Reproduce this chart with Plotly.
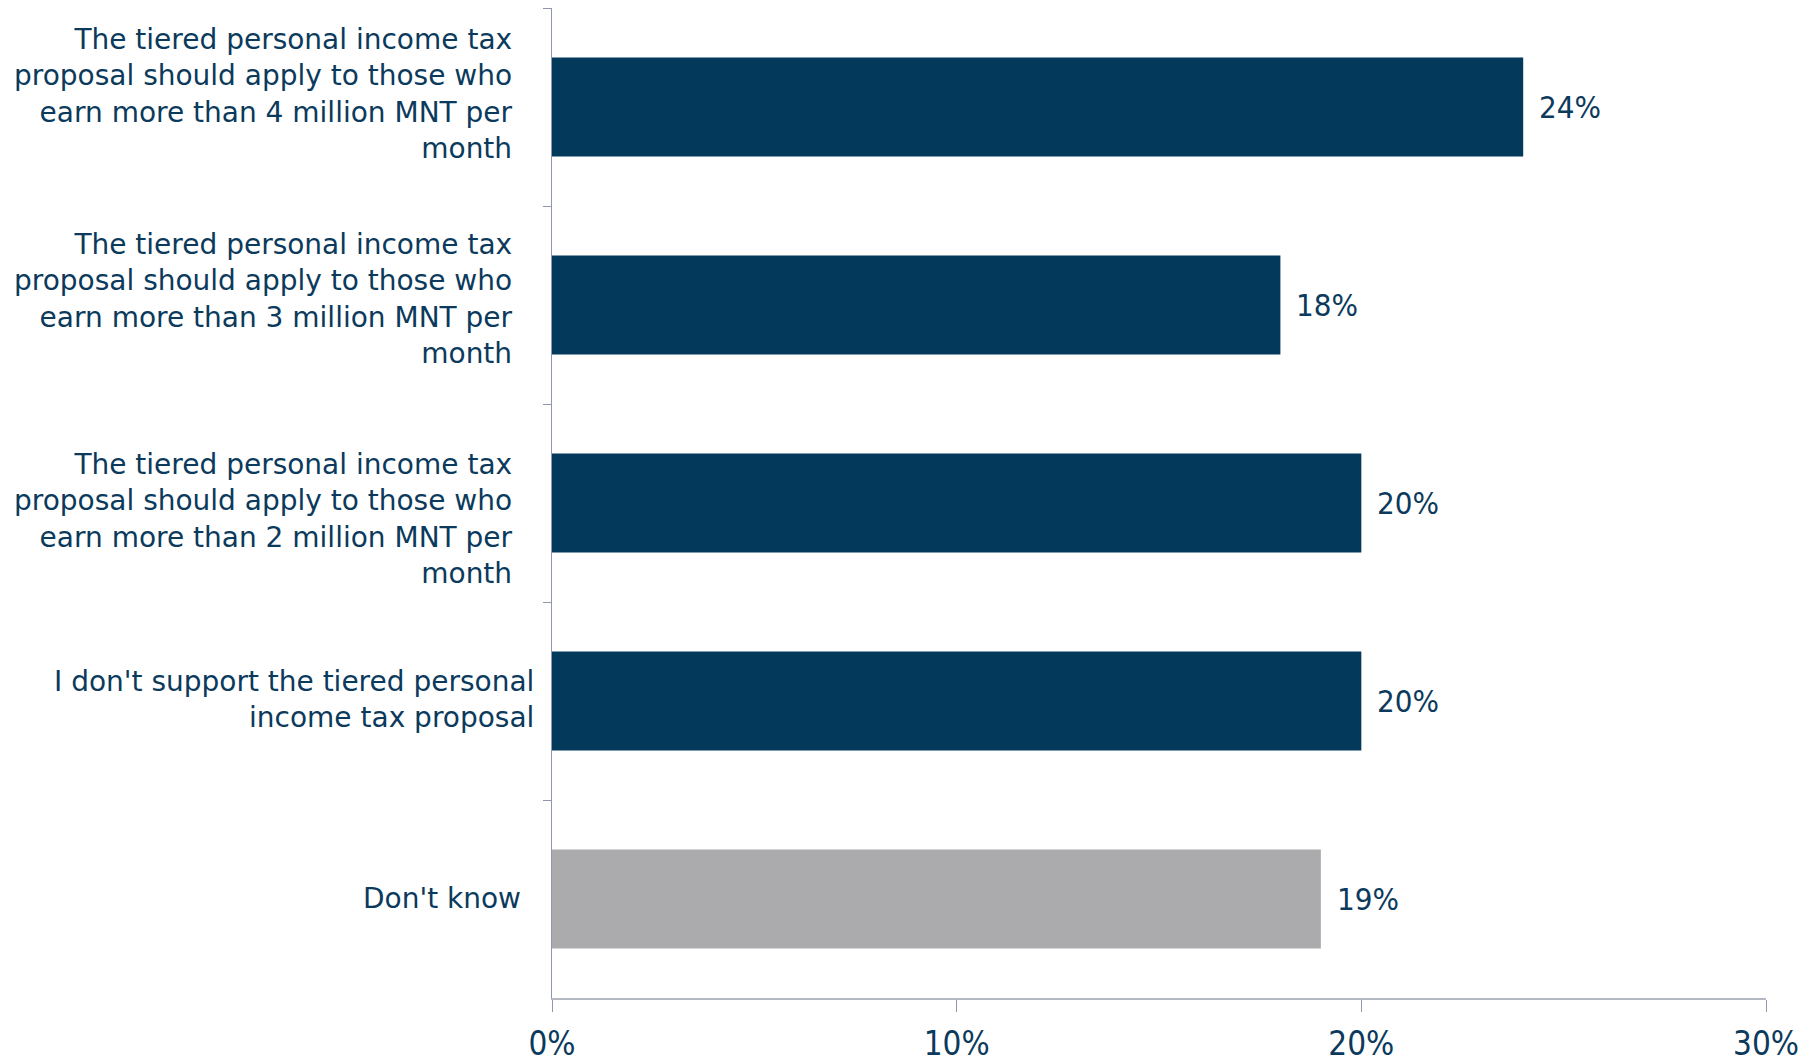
import plotly.graph_objects as go

categories = [
    "The tiered personal income tax<br>proposal should apply to those who<br>earn more than 4 million MNT per<br>month",
    "The tiered personal income tax<br>proposal should apply to those who<br>earn more than 3 million MNT per<br>month",
    "The tiered personal income tax<br>proposal should apply to those who<br>earn more than 2 million MNT per<br>month",
    "I don't support the tiered personal<br>income tax proposal",
    "Don't know",
]
values = [24, 18, 20, 20, 19]
colors = ["#033A5B", "#033A5B", "#033A5B", "#033A5B", "#ABABAD"]
x_ticks = [0, 10, 20, 30]
x_ticktext = ["0%", "10%", "20%", "30%"]

# label placement styling (pixel offsets from the axis / bar centre)
label_xshift = [-37, -37, -37, -16, -29]
label_yshift = [13, 6, -16, 2, 1]

TEXT = "#0B3A5C"
FONT = "DejaVu Sans"
FONT_C = "DejaVu Sans Condensed, DejaVu Sans"

fig = go.Figure(go.Bar(
    y=categories, x=values, orientation="h",
    marker=dict(color=colors, line=dict(width=0)),
    width=0.5,
))

for c, v in zip(categories, values):
    fig.add_annotation(x=v, y=c, text=f"{v}%", showarrow=False,
                       xanchor="left", xshift=14,
                       font=dict(size=31, color=TEXT, family=FONT_C))

for c, xs, ys in zip(categories, label_xshift, label_yshift):
    fig.add_annotation(xref="paper", x=0, y=c, text=c, showarrow=False,
                       xanchor="right", align="right", xshift=xs, yshift=ys,
                       font=dict(size=28, color=TEXT, family=FONT))

fig.update_layout(
    width=1816, height=1062,
    margin=dict(l=544, r=58, t=0, b=72),
    plot_bgcolor="white", paper_bgcolor="white",
    showlegend=False,
    font=dict(family=FONT, color=TEXT),
)
fig.update_xaxes(
    range=[0, 30], tickvals=x_ticks, ticktext=x_ticktext,
    showgrid=False, zeroline=False, automargin=False,
    showline=True, linecolor="#B4B8C0", linewidth=2,
    ticks="outside", ticklen=12, tickcolor="#8E98AA", tickwidth=1,
    tickfont=dict(size=33, color=TEXT, family=FONT_C),
    ticklabelstandoff=3,
)
fig.update_yaxes(
    autorange="reversed", categoryorder="array", categoryarray=categories,
    showgrid=False, showline=True, linecolor="#8E98AA", linewidth=1,
    automargin=False, showticklabels=False,
    ticks="outside", ticklen=8, tickcolor="#8E98AA", tickson="boundaries",
)

fig.write_html("out.html")
